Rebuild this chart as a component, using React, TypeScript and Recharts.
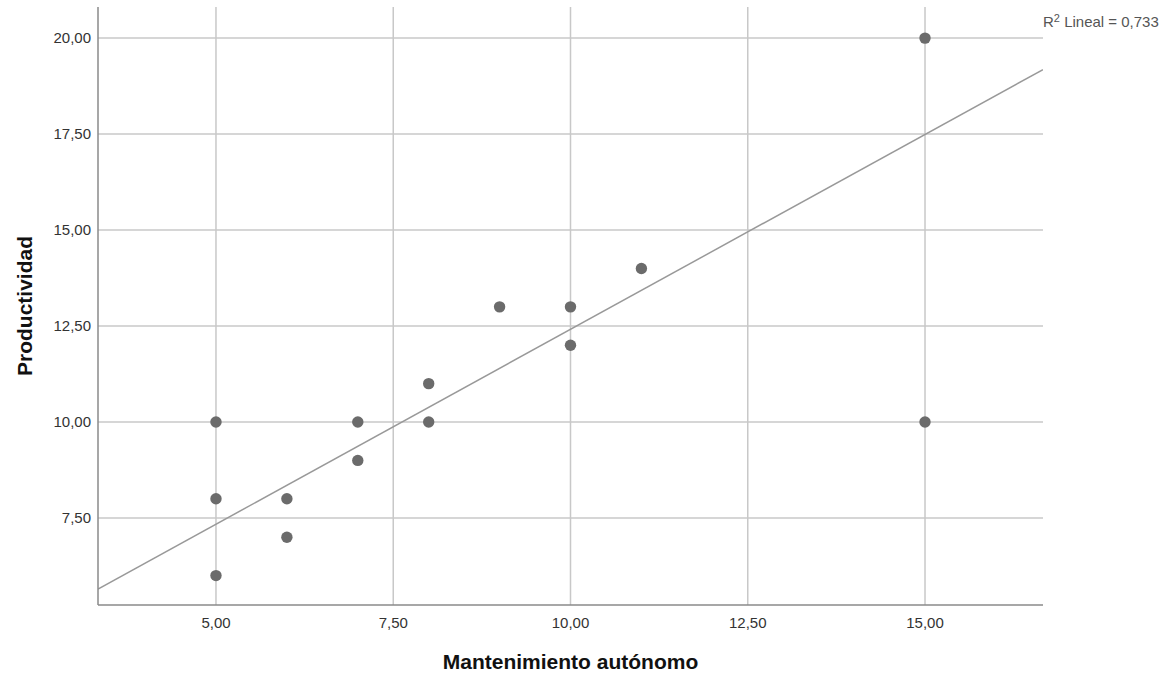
import React from "react";
import {
  ScatterChart,
  Scatter,
  XAxis,
  YAxis,
  ReferenceLine,
} from "recharts";

const mantenimiento = [5, 5, 5, 6, 6, 7, 7, 8, 8, 9, 10, 10, 11, 15, 15];
const productividad = [10, 8, 6, 8, 7, 10, 9, 11, 10, 13, 13, 12, 14, 20, 10];

const xTicks = [5, 7.5, 10, 12.5, 15];
const yTicks = [7.5, 10, 12.5, 15, 17.5, 20];

const xDomain = [3.336, 16.664];
const yDomain = [5.234, 20.81];

const fitX = [3.336, 16.664];
const fitY = [5.648, 19.18];

const r2Text = "0,733";

const points = mantenimiento.map((x, i) => ({ x, y: productividad[i] }));

const fmt = (v: number) => v.toFixed(2).replace(".", ",");

const font = "'Liberation Sans', Arial, sans-serif";

export default function App() {
  return (
    <div style={{ position: "absolute", left: 0, top: 0, width: 1170, height: 677, background: "#fff" }}>
      <ScatterChart
        width={1170}
        height={677}
        margin={{ top: 7, right: 127, bottom: 4, left: 8 }}
      >
        <XAxis
          type="number"
          dataKey="x"
          domain={xDomain}
          ticks={xTicks}
          allowDataOverflow
          tickFormatter={fmt}
          tickLine={false}
          axisLine={{ stroke: "#8a8a8a", strokeWidth: 1.5 }}
          height={68}
          tickMargin={6}
          tick={{ fill: "#333", fontSize: 15, fontFamily: font }}
          label={{
            value: "Mantenimiento autónomo",
            position: "insideBottom",
            offset: 4,
            style: { fill: "#111", fontSize: 21, fontWeight: "bold", fontFamily: font },
          }}
        />
        <YAxis
          type="number"
          dataKey="y"
          domain={yDomain}
          ticks={yTicks}
          allowDataOverflow
          tickFormatter={fmt}
          tickLine={false}
          axisLine={{ stroke: "#8a8a8a", strokeWidth: 1.5 }}
          width={90}
          tickMargin={1}
          tick={{ fill: "#333", fontSize: 15, fontFamily: font }}
          label={{
            value: "Productividad",
            angle: -90,
            position: "insideLeft",
            offset: 17,
            style: { fill: "#111", fontSize: 21, fontWeight: "bold", fontFamily: font, textAnchor: "middle" },
          }}
        />
        {yTicks.map((v) => (
          <ReferenceLine key={"h" + v} y={v} stroke="#c8c8c8" strokeWidth={1.5} />
        ))}
        {xTicks.map((v) => (
          <ReferenceLine key={"v" + v} x={v} stroke="#c8c8c8" strokeWidth={1.5} />
        ))}
        <ReferenceLine
          segment={[
            { x: fitX[0], y: fitY[0] },
            { x: fitX[1], y: fitY[1] },
          ]}
          stroke="#999"
          strokeWidth={1.5}
          ifOverflow="hidden"
        />
        <Scatter
          data={points}
          fill="#6b6b6b"
          isAnimationActive={false}
          shape={(p: any) => <circle cx={p.cx} cy={p.cy} r={5.7} fill="#6b6b6b" />}
        />
      </ScatterChart>
      <div
        style={{
          position: "absolute",
          left: 1043,
          top: 13,
          fontFamily: font,
          fontSize: 15,
          lineHeight: "17px",
          color: "#555",
          whiteSpace: "nowrap",
        }}
      >
        R<sup style={{ fontSize: 11, verticalAlign: "5px", lineHeight: 0 }}>2</sup> Lineal = {r2Text}
      </div>
    </div>
  );
}
